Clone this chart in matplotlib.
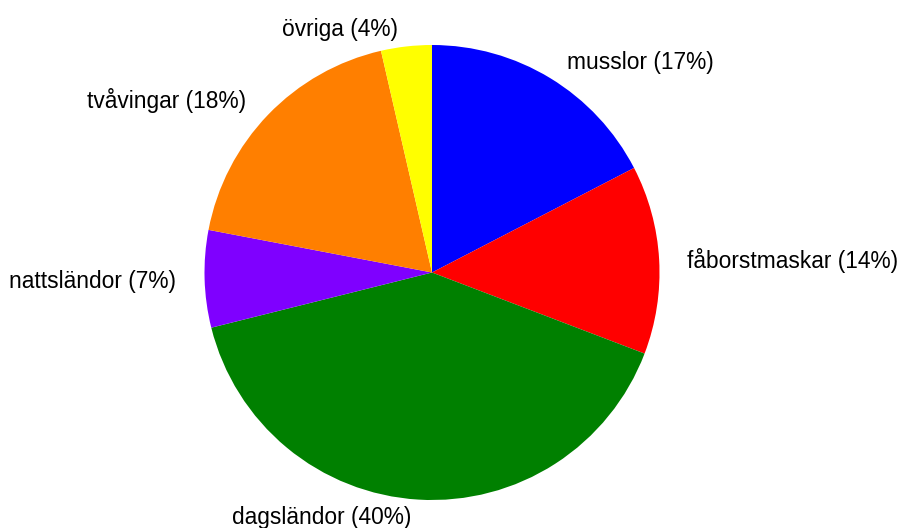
import matplotlib
matplotlib.use("Agg")
from matplotlib import pyplot as plt
from matplotlib.transforms import offset_copy

# data
labels = ["musslor", "fåborstmaskar", "dagsländor", "nattsländor", "tvåvingar", "övriga"]
values = [17.4, 13.4, 40.3, 6.9, 18.4, 3.6]
pct_labels = [17, 14, 40, 7, 18, 4]
colors = ["#0000ff", "#ff0000", "#008000", "#7f00ff", "#ff7f00", "#ffff00"]

plt.rcParams["font.family"] = ["Liberation Sans", "DejaVu Sans"]

fig = plt.figure(figsize=(9.01, 5.28), dpi=100)
cx, cy, r = 432, 272.5, 227.5
ax = fig.add_axes([(cx - r) / 901, (528 - cy - r) / 528, 2 * r / 901, 2 * r / 528])

texts = [f"{lab} ({p}%)" for lab, p in zip(labels, pct_labels)]
wedges, lbls = ax.pie(values, labels=texts, colors=colors, startangle=90, counterclock=False,
                      labeldistance=1.1, textprops={"fontsize": 16.4})
ax.set_xlim(-1, 1)
ax.set_ylim(-1, 1)
ax.set_aspect("equal")
ax.axis("off")

# small nudges of the labels (pixels) to sit like the original
nudge_y = [-4, -2, 5, -2, -2, -6]
for t, dy in zip(lbls, nudge_y):
    dx = 5 if t.get_position()[0] > 0 else -6
    t.set_transform(offset_copy(ax.transData, fig=fig, x=dx, y=dy, units="dots"))

plt.savefig("out.png", dpi=100)
